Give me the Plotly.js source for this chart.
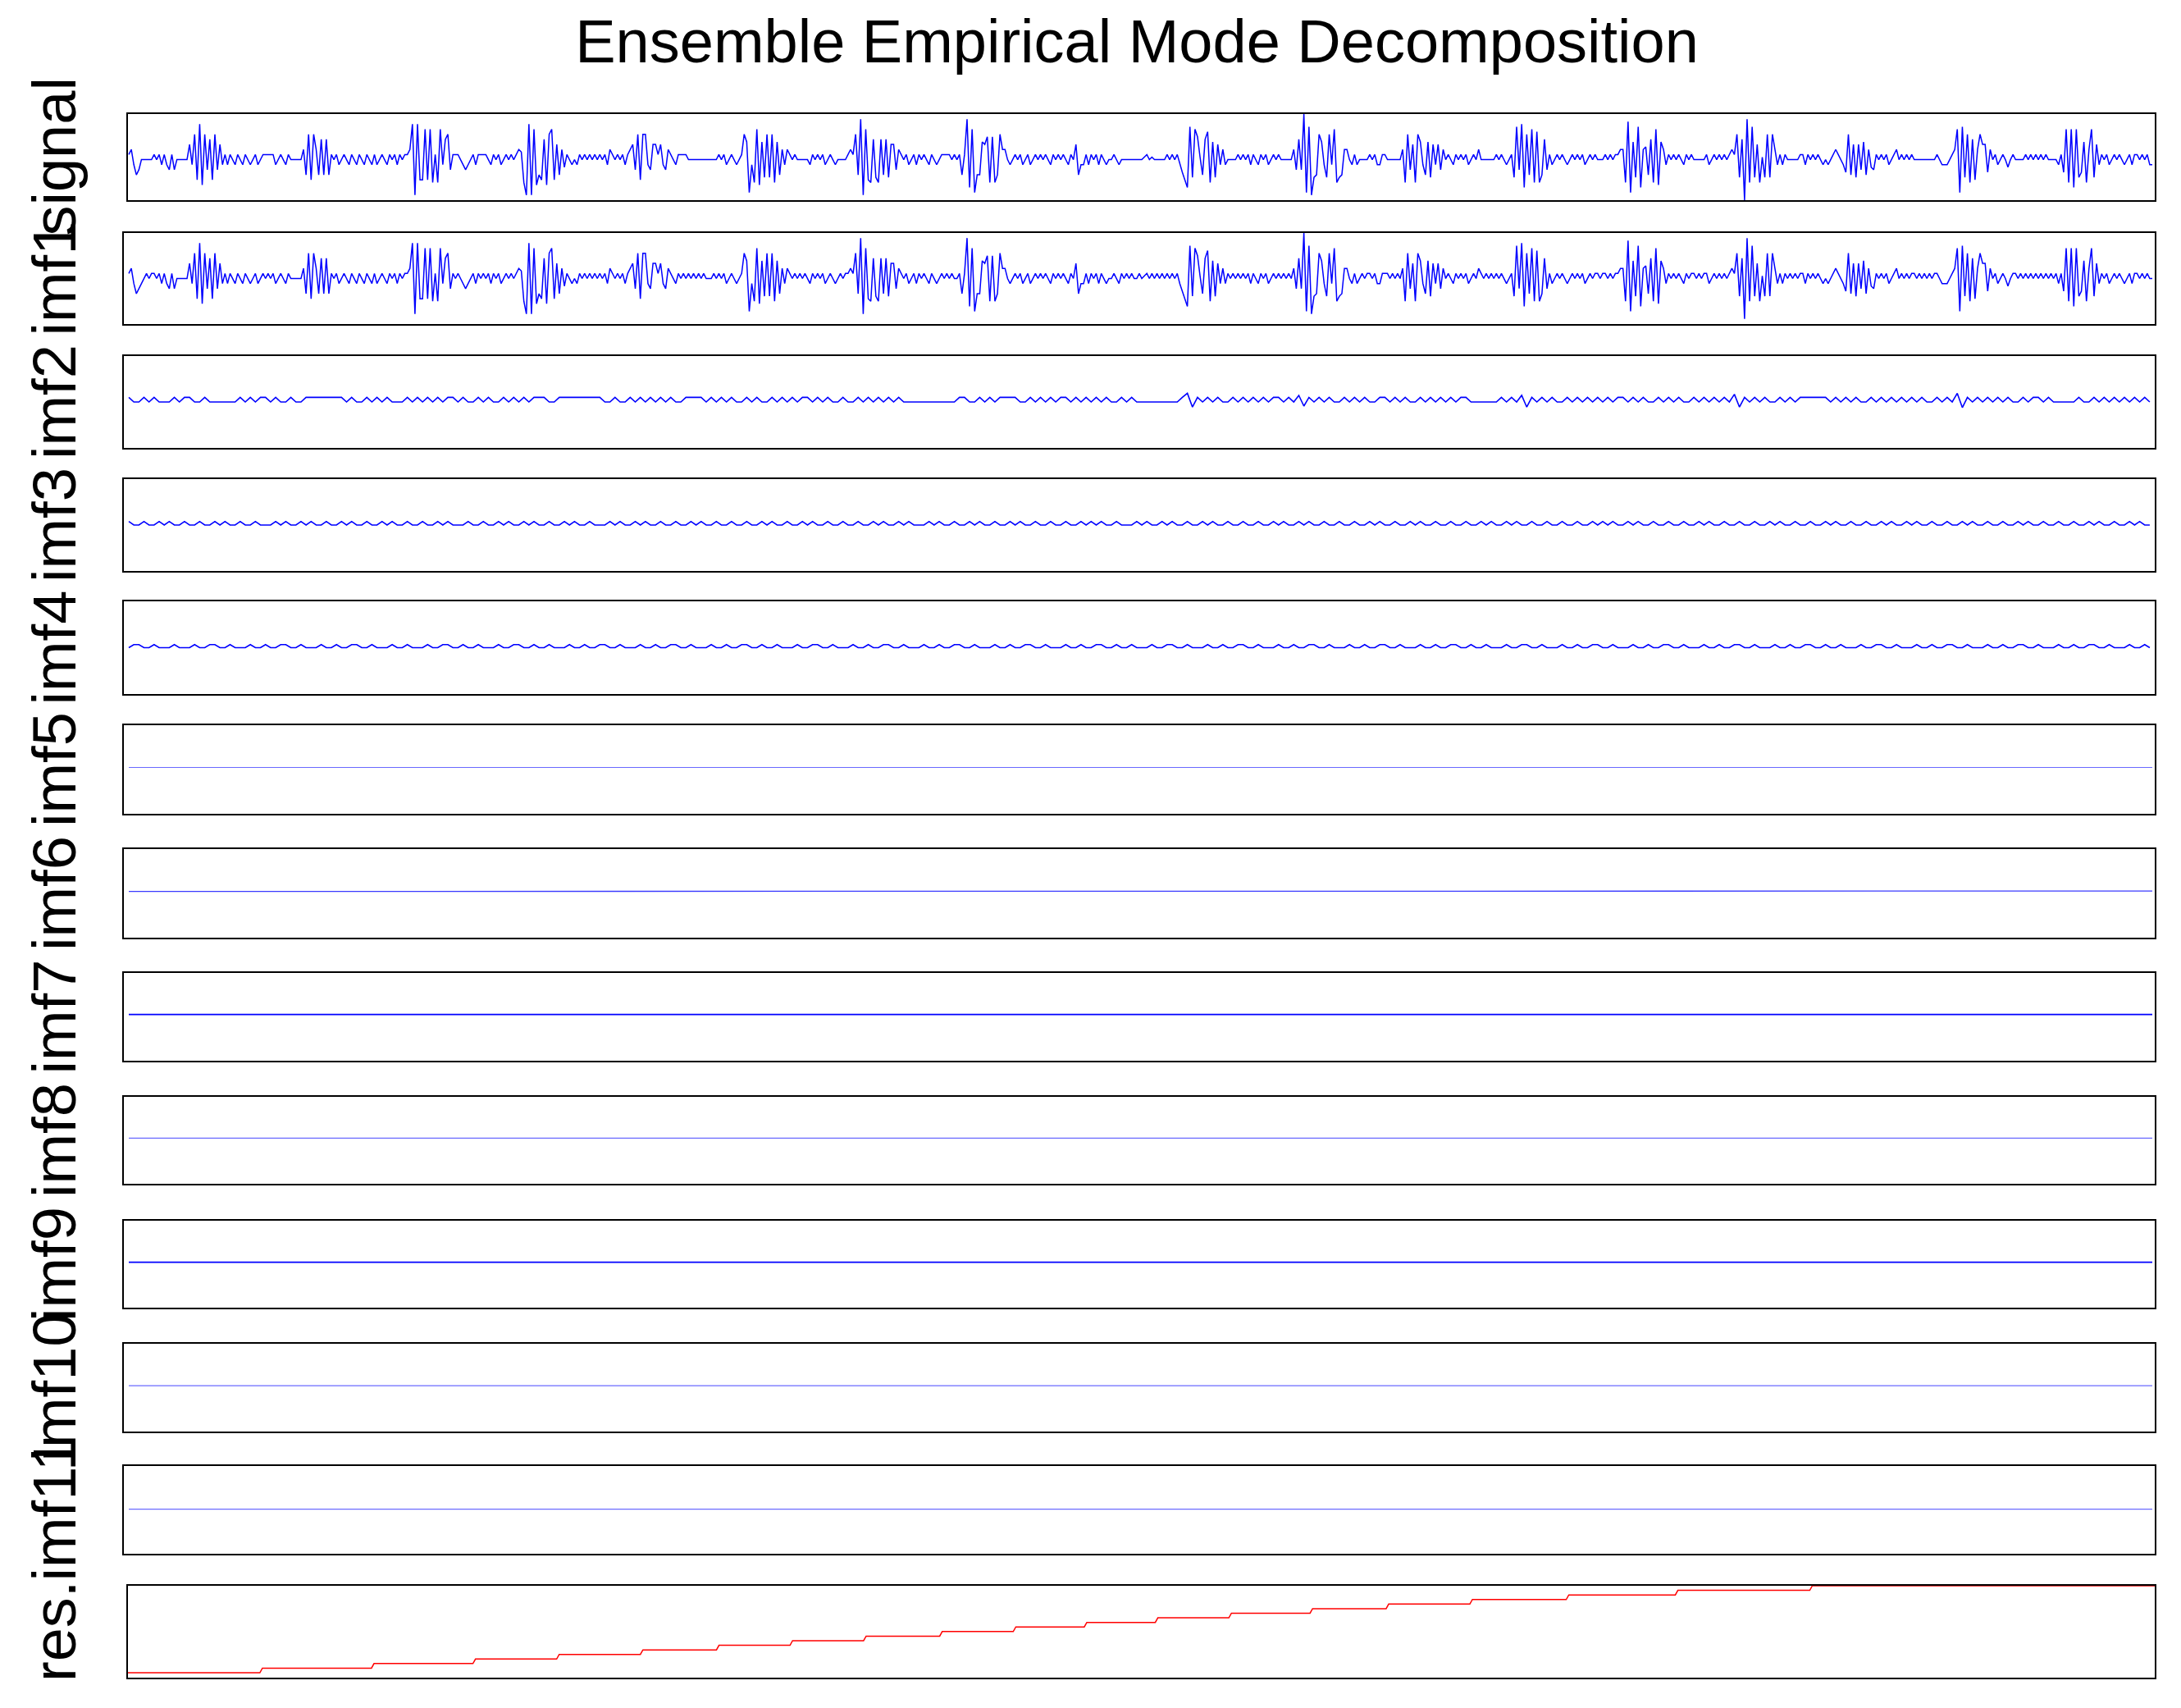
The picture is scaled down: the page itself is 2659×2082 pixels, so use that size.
<!DOCTYPE html>
<html>
<head>
<meta charset="utf-8">
<script src="https://cdn.plot.ly/plotly-3.0.1.min.js"></script>
<style>html,body{margin:0;padding:0;background:#fff}#chart{width:2659px;height:2082px}</style>
</head>
<body>
<div id="chart"></div>
<script>
// ---------------- data ----------------
const panelNames = ["signal","imf1","imf2","imf3","imf4","imf5","imf6","imf7","imf8","imf9","imf10","imf11","res."];
const chartTitle = "Ensemble Empirical Mode Decomposition";

const signal = [
1,2,-1,-3,-2,0,0,0,0,0,
1,0,1,-1,1,-1,-2,1,-2,0,
0,0,0,0,3,-1,5,-4,7,-5,
5,-2,4,-4,5,-2,3,-1,1,-1,
1,0,-1,1,0,-1,1,0,-1,0,
1,-1,0,1,1,1,1,1,-1,0,
1,0,-1,1,0,0,0,0,0,2,
-3,5,-4,5,2,-3,4,-3,4,-3,
1,0,1,-1,0,1,0,-1,1,0,
-1,1,0,-1,1,0,-1,1,-1,0,
1,0,-1,1,0,1,-1,1,0,1,
1,2,7,-7,7,-4,-4,6,-4,6,
-4.5,1,-4.5,6,-1,4,5,-2,1,1,
1,0,-1,-2,-1,0,1,-1,1,1,
1,1,0,-1,1,0,1,-1,0,1,
0,1,0,1,2,1.5,-4.5,-7,7,-7,
6,-5,-3,-4,4,-5,5,6,-4,3,
-3,2,-1.5,1,0,-1,0,-1,1,0,
1,0,1,0,1,0,1,0,1,-1,
2,1,0,1,0,1,-1,1,2,3,
-2,5,-4,5,5,-1,-2,3,3,1,
3,-1,-2,2,1,0,-1,1,1,1,
1,0,0,0,0,0,0,0,0,0,
0,0,0,1,0,1,-1,0,1,0,
-1,0,1,5,3.5,-6.5,-1,-4.5,6,-5,
3.5,-3.5,5,-3.5,5,-4.5,3.5,-3,2,-1,
2,1,0,1,0,0,0,0,0,-1,
1,0,1,0,1,-1,0,1,0,-1,
0,0,0,0,1,2,1,5,-3,8,
-7,6,-4,-4.5,4,-3.5,-4.5,4,-3,4,
-3.5,3,3,-2,2,1,0,1,-1,0,
1,-1,1,0,1,0,-1,1,0,-1,
0,1,1,1,1,0,1,0,1,-3,
1,8,-5.5,6,-6.5,-3,-3,3.5,3,4.5,
-4.5,4.5,-4.5,-3,5,2,2,0,-1,0,
1,0,1,-1,0,1,-1,0,1,0,
1,0,1,0,-1,1,0,1,0,1,
0,-1,1,0,3,-3,-1,-1,1,-1,
1,0,1,-1,1,0,-1,0,0,1,
0,-1,0,0,0,0,0,0,0,0,
0,0.5,1,0,0.5,0,0,0,0,0,
1,0,1,0,1,-1,-2.5,-4,-5.5,6.5,
-3.5,6,4.5,0.5,-3,4,5.5,-4.5,3.5,-3.5,
3,-1,2,-1,0,0,0,0,1,0,
1,0,1,-1,1,0,-1,1,0,1,
-1,0,1,0,1,0,0,0,0,0,
2,-2,4,-2,9,-6.5,6.5,-7,-3.5,-3,
5,3.5,-1,-3.5,5,-1,6,-4.5,-3.5,-3,
2,2,0,-1,1,-1,0,0,0,0,
1,0,1,-1,-1,1,1,0,0,0,
0,0,0,2,-4.5,5,-2,3,-4.5,5,
3.5,-1,-3,3.5,-3.5,3,-1,3,-2,2,
0,1,0,-1,1,0,1,0,1,-1,
0,1,0,2,0,0,0,0,0,0,
1,0,1,0,-1,0,1,-3.5,6.5,-2,
7,-5.5,5,-3,6,-4.5,5.5,-4.5,-3,4,
-2,1,-1,0,1,0,1,0,-1,0,
1,0,1,0,1,-1,0,1,0,1,
0,0,0,1,0,1,0,1,1,2,
2,-4.5,7.5,-6.5,3.5,-3.5,6.5,-5.5,2,2.5,
-3,4,-4.5,6,-5,3.5,2,-1,1,0,
1,0,1,0,-1,1,0,1,0,0,
0,0,0,1,-1,0,1,0,1,0,
1,0,1,2,1,5,-3.5,4,-8,8,
-4.5,6.5,-3.5,3,-4.5,0.5,-3.5,5,-3.5,5,
2,-1,1,-1,1,0,0,0,0,0,
1,1,-1,1,0,1,0,1,0,-1,
0,-1,0,1,2,1,0,-1,-2.5,5,
-3,3,-3.5,3,-2,3.5,-3,2,-1.5,-2,
1,0,1,0,1,-1,0,1,2,0,
1,0,1,0,1,0,0,0,0,0,
0,0,0,0,1,0,-1,-1,-1,0,
1,2,6,-6.5,6.5,-3.5,5,-4.5,4,-4,
2,5,3,3,-2.5,2,0,1,-1,0,
1,0,-1.5,0,1,0,0,0,0,1,
0,1,0,1,0,1,0,1,0,0,
0,0,-1,1,-2.5,6,-4.5,6,-5.5,6,
-3.5,-2.5,3.5,-4.5,2,6,-3.5,3,-1,1,
0,1,-1,0,1,0,1,0,-1,0,
1,-1,1,1,0,1,0,1,-1,-1
];

const imf1 = [
1,2,-1,-3,-2,-1,0,1,0,1,
1,0,1,-1,1,-1,-2,1,-2,0,
0,0,0,0,3,-1,5,-4,7,-5,
5,-2,4,-4,5,-2,3,-1,1,-1,
1,0,-1,1,0,-1,1,0,-1,0,
1,-1,0,1,0,1,0,1,-1,0,
1,0,-1,1,0,0,0,0,0,2,
-3,5,-4,5,2,-3,4,-3,4,-3,
1,0,1,-1,0,1,0,-1,1,0,
-1,1,0,-1,1,0,-1,1,-1,0,
1,0,-1,1,0,1,-1,1,0,1,
1,2,7,-7,7,-4,-4,6,-4,6,
-4.5,1,-4.5,6,-1,4,5,-2,1,0,
1,0,-1,-2,-1,0,1,-1,1,0,
1,0,1,-1,1,0,1,-1,0,1,
0,1,0,1,2,1.5,-4.5,-7,7,-7,
6,-5,-3,-4,4,-5,5,6,-4,3,
-3,2,-1.5,1,0,-1,0,-1,1,0,
1,0,1,0,1,0,1,0,1,-1,
2,1,0,1,0,1,-1,1,2,3,
-2,5,-4,5,5,-1,-2,3,3,1,
3,-1,-2,2,1,0,-1,1,0,1,
0,1,0,1,0,1,0,1,0,0,
0,1,0,1,0,1,-1,0,1,0,
-1,0,1,5,3.5,-6.5,-1,-4.5,6,-5,
3.5,-3.5,5,-3.5,5,-4.5,3.5,-3,2,-1,
2,1,0,1,0,1,0,1,0,-1,
1,0,1,0,1,-1,0,1,0,-1,
0,1,0,1,1,2,1,5,-3,8,
-7,6,-4,-4.5,4,-3.5,-4.5,4,-3,4,
-3.5,3,3,-2,2,1,0,1,-1,0,
1,-1,1,0,1,0,-1,1,0,-1,
0,1,0,1,0,1,0,0,1,-3,
1,8,-5.5,6,-6.5,-3,-3,3.5,3,4.5,
-4.5,4.5,-4.5,-3,5,2,2,0,-1,0,
1,0,1,-1,0,1,-1,0,1,0,
1,0,1,0,-1,1,0,1,0,1,
0,-1,1,0,3,-3,-1,-1,1,-1,
1,0,1,-1,1,0,-1,0,0,1,
0,-1,1,0,1,0,1,0,0,1,
0,0.5,1,0,1,0,1,0,1,0,
1,0,1,0,1,-1,-2.5,-4,-5.5,6.5,
-3.5,6,4.5,0.5,-3,4,5.5,-4.5,3.5,-3.5,
3,-1,2,-1,1,0,1,0,1,0,
1,0,1,-1,1,0,-1,1,0,1,
-1,0,1,0,1,0,1,0,1,0,
2,-2,4,-2,9,-6.5,6.5,-7,-3.5,-3,
5,3.5,-1,-3.5,5,-1,6,-4.5,-3.5,-3,
2,2,0,-1,1,-1,0,1,0,1,
1,0,1,-1,-1,1,1,1,0,1,
0,1,0,2,-4.5,5,-2,3,-4.5,5,
3.5,-1,-3,3.5,-3.5,3,-1,3,-2,2,
0,1,0,-1,1,0,1,0,1,-1,
0,1,0,2,1,0,1,0,1,0,
1,0,1,0,-1,0,1,-3.5,6.5,-2,
7,-5.5,5,-3,6,-4.5,5.5,-4.5,-3,4,
-2,1,-1,0,1,0,1,0,-1,0,
1,0,1,0,1,-1,0,1,0,1,
1,0,1,1,0,1,0,1,1,2,
2,-4.5,7.5,-6.5,3.5,-3.5,6.5,-5.5,2,2.5,
-3,4,-4.5,6,-5,3.5,2,-1,1,0,
1,0,1,0,-1,1,0,1,1,0,
1,0,1,1,-1,0,1,0,1,0,
1,0,1,2,1,5,-3.5,4,-8,8,
-4.5,6.5,-3.5,3,-4.5,0.5,-3.5,5,-3.5,5,
2,-1,1,-1,1,0,1,0,1,0,
1,1,-1,1,0,1,0,1,0,-1,
0,-1,0,1,2,1,0,-1,-2.5,5,
-3,3,-3.5,3,-2,3.5,-3,2,-1.5,-2,
1,0,1,0,1,-1,0,1,2,0,
1,0,1,0,1,1,0,1,0,1,
0,1,0,1,1,0,-1,-1,-1,0,
1,2,6,-6.5,6.5,-3.5,5,-4.5,4,-4,
2,5,3,3,-2.5,2,0,1,-1,0,
1,0,-1.5,0,1,1,0,1,0,1,
0,1,0,1,0,1,0,1,0,1,
0,1,-1,1,-2.5,6,-4.5,6,-5.5,6,
-3.5,-2.5,3.5,-4.5,2,6,-3.5,3,-1,1,
0,1,-1,0,1,0,1,0,-1,0,
1,-1,1,1,0,1,0,1,0,0
];

const imf2 = [
.9,0,0,.9,0,.9,0,0,0,.9,
0,.9,.9,0,0,.9,0,0,0,0,
0,0,.9,0,.9,0,.9,.9,0,.9,
0,0,.9,0,0,.9,.9,.9,.9,.9,
.9,.9,.9,0,.9,0,0,.9,0,.9,
0,.9,0,0,0,.9,0,.9,0,.9,
0,.9,0,.9,.9,0,.9,0,0,.9,
0,.9,0,0,.9,0,.9,0,.9,0,
.9,.9,.9,0,0,.9,.9,.9,.9,.9,
.9,.9,.9,.9,0,0,.9,0,0,.9,
0,.9,0,.9,0,.9,0,.9,0,0,
.9,.9,.9,.9,0,.9,0,.9,0,.9,
0,0,.9,0,.9,0,0,.9,0,.9,
0,.9,0,.9,.9,0,.9,0,.9,0,
0,.9,0,0,.9,0,.9,0,.9,0,
.9,0,.9,0,0,0,0,0,0,0,
0,0,0,0,.9,.9,0,0,.9,0,
.9,0,.9,.9,.9,.9,0,0,.9,0,
.9,0,.9,0,.9,.9,0,.9,0,.9,
0,.9,0,.9,0,0,.9,0,.9,0,
0,0,0,0,0,0,0,0,.9,1.7,
-1,.9,0,.9,0,.9,0,0,.9,0,
.9,0,.9,0,.9,0,.9,.9,0,.9,
0,1.3,-.8,.9,0,.9,0,.9,0,0,
.9,0,.9,0,.9,0,0,.9,.9,0,
.9,0,.9,0,0,.9,0,.9,0,.9,
0,.9,0,.9,.9,0,0,0,0,0,
0,.9,0,.9,0,1.3,-1,.9,0,.9,
0,.9,0,0,.9,0,.9,0,.9,0,
.9,0,.9,0,.9,.9,0,.9,0,.9,
0,0,.9,0,.9,0,.9,0,0,.9,
0,.9,0,.9,0,.9,0,1.5,-1,.9,
0,.9,0,.9,0,0,.9,0,.9,0,
.9,.9,.9,.9,.9,.9,0,.9,0,.9,
0,.9,0,0,.9,0,.9,0,.9,0,
.9,0,.9,0,.9,0,0,.9,0,.9,
0,1.7,-1.1,.9,0,.9,0,.9,0,.9,
0,.9,0,0,.9,0,.9,.9,0,.9,
0,0,0,0,0,.9,0,0,.9,0,
.9,0,.9,0,.9,0,.9,0,.9,0
];

const imf3 = [
.7,0,0,.7,0,0,.7,0,.7,0,
0,.7,0,0,.7,0,0,.7,0,.7,
0,0,.7,0,0,.7,0,0,0,.7,
0,.7,0,0,.7,0,.7,0,0,.7,
0,0,.7,0,.7,0,0,.7,0,0,
.7,0,.7,0,0,.7,0,0,.7,0,
0,.7,0,.7,0,0,0,.7,0,0,
.7,0,0,.7,0,.7,0,0,.7,0,
.7,0,0,.7,0,0,.7,0,.7,0,
0,.7,0,0,0,.7,0,.7,0,0,
.7,0,.7,0,0,.7,0,0,.7,0,
0,.7,0,.7,0,0,.7,0,0,.7,
0,0,.7,0,0,.7,0,.7,0,0,
.7,0,0,.7,0,.7,0,0,.7,0,
0,.7,0,0,.7,0,0,.7,0,.7,
0,0,.7,0,.7,0,0,0,.7,0,
.7,0,0,.7,0,0,.7,0,.7,0,
0,.7,0,0,.7,0,.7,0,0,.7,
0,0,.7,0,0,.7,0,0,.7,0,
.7,0,.7,0,0,.7,0,0,0,.7,
0,.7,0,0,.7,0,.7,0,0,.7,
0,0,.7,0,.7,0,0,.7,0,0,
.7,0,0,.7,0,0,.7,0,.7,0,
0,.7,0,.7,0,0,.7,0,0,.7,
0,0,.7,0,0,.7,0,.7,0,0,
.7,0,0,.7,0,.7,0,0,.7,0,
0,.7,0,0,.7,0,0,.7,0,.7,
0,0,.7,0,.7,0,0,.7,0,0,
.7,0,0,.7,0,0,.7,0,0,.7,
0,.7,0,.7,0,0,.7,0,.7,0,
0,.7,0,0,.7,0,0,.7,0,0,
.7,0,.7,0,0,.7,0,0,.7,0,
0,.7,0,0,.7,0,.7,0,0,.7,
0,0,.7,0,0,.7,0,.7,0,0,
.7,0,0,.7,0,0,.7,0,.7,0,
0,.7,0,.7,0,0,.7,0,0,.7,
0,0,.7,0,.7,0,0,.7,0,0,
.7,0,0,.7,0,.7,0,0,.7,0,
0,.7,0,0,.7,0,0,.7,0,.7,
0,0,.7,0,0,.7,0,.7,0,0
];

const imf4 = [
0,.6,.6,0,0,.6,0,0,0,.6,
0,0,0,.6,0,0,.6,.6,0,0,
.6,0,0,0,.6,0,0,.6,0,0,
.6,.6,0,0,.6,0,0,0,.6,0,
0,.6,0,0,.6,.6,0,0,.6,0,
0,0,.6,0,0,.6,0,0,0,.6,
0,0,.6,.6,0,0,.6,0,0,.6,
0,0,0,.6,0,0,.6,.6,0,0,
.6,0,0,.6,0,0,0,.6,0,0,
.6,0,0,.6,.6,0,0,.6,0,0,
0,.6,0,0,.6,0,0,.6,.6,0,
0,.6,0,0,0,.6,0,0,.6,0,
0,.6,.6,0,0,.6,0,0,.6,0,
0,0,.6,0,0,.6,.6,0,0,.6,
0,0,0,.6,0,0,.6,0,0,.6,
.6,0,0,.6,0,0,0,.6,0,0,
.6,0,0,.6,.6,0,0,.6,0,0,
0,.6,0,0,.6,0,0,.6,.6,0,
0,.6,0,0,0,.6,0,0,.6,0,
0,.6,.6,0,0,.6,0,0,.6,0,
0,0,.6,0,0,.6,.6,0,0,.6,
0,0,0,.6,0,0,.6,0,0,.6,
.6,0,0,.6,0,0,0,.6,0,0,
.6,0,0,.6,.6,0,0,.6,0,0,
0,.6,0,0,.6,0,0,.6,.6,0,
0,.6,0,0,0,.6,0,0,.6,0,
0,.6,.6,0,0,.6,0,0,.6,0,
0,0,.6,0,0,.6,.6,0,0,.6,
0,0,0,.6,0,0,.6,0,0,.6,
.6,0,0,.6,0,0,0,.6,0,0,
.6,0,0,.6,.6,0,0,.6,0,0,
0,.6,0,0,.6,0,0,.6,.6,0,
0,.6,0,0,0,.6,0,0,.6,0,
0,.6,.6,0,0,.6,0,0,.6,0,
0,0,.6,0,0,.6,.6,0,0,.6,
0,0,0,.6,0,0,.6,0,0,.6,
.6,0,0,.6,0,0,0,.6,0,0,
.6,0,0,.6,.6,0,0,.6,0,0,
0,.6,0,0,.6,0,0,.6,.6,0,
0,.6,0,0,0,.6,0,0,.6,0
];

// flat modes: sample positions and values
const flatX  = [0, 799];
const imf5  = [0.42, 0.42];
const imf6X = [0, 232, 233, 799];
const imf6  = [0.40, 0.40, 0.48, 0.48];
const imf7  = [0.48, 0.48];
const imf8  = [0.43, 0.43];
const imf9  = [0.40, 0.40];
const imf10 = [0.40, 0.40];
const imf11 = [0.15, 0.15];

// residue: staircase (sample index where each level starts, level value)
const resStart = [0,53,97,137,170,203,233,262,291,321,350,378,406,435,467,497,530,568,611,664];
const resLevel = [0,1,2,3,4,5,6,7,8,9,10,11,12,13,14,15,16,17,18,19];
const resEnd = 799;

// ---------------- layout geometry ----------------
const W = 2659, H = 2082;
const plotL = 151, plotR = 2627, plotT = 139, plotB = 2045;
const panelTop = [139,284,434,584,733,884,1035,1186,1337,1488,1638,1787,1933];
const panelBot = [244,395,546,696,846,992,1143,1293,1443,1594,1745,1894,2045];
const panelLeft = [156,151,151,151,151,151,151,151,151,151,151,151,156];
const ph = plotB - plotT, pw = plotR - plotL;
const pxPerSample = (2624 - 157) / 799;
const FONT = "Liberation Sans, Arial, Helvetica, sans-serif";
const BLUE = "#0000ff";

const idx = signal.map((_, i) => i);
const idx2 = imf2.map((_, i) => 2 * i);

const resX = [], resY = [];
resStart.forEach((s, k) => {
  const e = (k + 1 < resStart.length) ? resStart[k + 1] - 1 : resEnd;
  resX.push(s, e); resY.push(resLevel[k], resLevel[k]);
});

const series = [
  {x: idx, y: signal, color: BLUE, w: 1.5},
  {x: idx, y: imf1, color: BLUE, w: 1.5},
  {x: idx2, y: imf2, color: BLUE, w: 1.6},
  {x: idx2, y: imf3, color: BLUE, w: 1.6},
  {x: idx2, y: imf4, color: BLUE, w: 1.6},
  {x: flatX, y: imf5, color: "#6a6aff", w: 1.2},
  {x: imf6X, y: imf6, color: "#3a3aff", w: 1.3},
  {x: flatX, y: imf7, color: BLUE, w: 1.6},
  {x: flatX, y: imf8, color: "#6a6aff", w: 1.2},
  {x: flatX, y: imf9, color: BLUE, w: 1.6},
  {x: flatX, y: imf10, color: "#6a6aff", w: 1.2},
  {x: flatX, y: imf11, color: "#6a6aff", w: 1.2},
  {x: resX, y: resY, color: "#ff0000", w: 1.5}
];

const yRanges = [[-8, 9]].concat(Array(11).fill([-9, 9])).concat([[-1.07, 19]]);

const traces = [];
const layout = {
  width: W, height: H,
  margin: {l: plotL, r: W - plotR, t: plotT, b: H - plotB, pad: 0},
  paper_bgcolor: "#fff", plot_bgcolor: "#fff",
  showlegend: false,
  font: {family: FONT, color: "#000"},
  title: {
    text: chartTitle,
    font: {family: FONT, size: 74, color: "#000"},
    x: 0.4988, xref: "paper", xanchor: "center",
    y: 1 - 50 / H, yref: "container", yanchor: "middle"
  },
  annotations: []
};

series.forEach((s, k) => {
  const n = k === 0 ? "" : String(k + 1);
  traces.push({
    type: "scatter", mode: "lines",
    x: s.x, y: s.y,
    xaxis: "x" + n, yaxis: "y" + n,
    line: {color: s.color, width: s.w},
    hoverinfo: "skip"
  });
  const left = panelLeft[k];
  let xr;
  if (k === 12) xr = [0, resEnd];
  else xr = [(left - 157) / pxPerSample, (plotR - 157) / pxPerSample];
  const lw = (k === 0) ? 2 : 1.5;
  layout["xaxis" + n] = {
    domain: [(left - plotL) / pw, 1],
    range: xr, anchor: "y" + n,
    showline: true, mirror: true, linecolor: "#000", linewidth: lw,
    showgrid: false, zeroline: false, showticklabels: false, ticks: "",
    fixedrange: true
  };
  layout["yaxis" + n] = {
    domain: [(plotB - panelBot[k]) / ph, (plotB - panelTop[k]) / ph],
    range: yRanges[k], anchor: "x" + n,
    showline: true, mirror: true, linecolor: "#000", linewidth: lw,
    showgrid: false, zeroline: false, showticklabels: false, ticks: "",
    fixedrange: true
  };
  layout.annotations.push({
    text: panelNames[k],
    textangle: -90,
    xref: "paper", yref: "paper",
    x: (66 - plotL) / pw,
    y: (plotB - (panelTop[k] + panelBot[k]) / 2) / ph,
    xanchor: "center", yanchor: "middle",
    showarrow: false,
    font: {family: FONT, size: 74, color: "#000"}
  });
});

Plotly.newPlot("chart", traces, layout, {displayModeBar: false, responsive: false});
</script>
</body>
</html>
